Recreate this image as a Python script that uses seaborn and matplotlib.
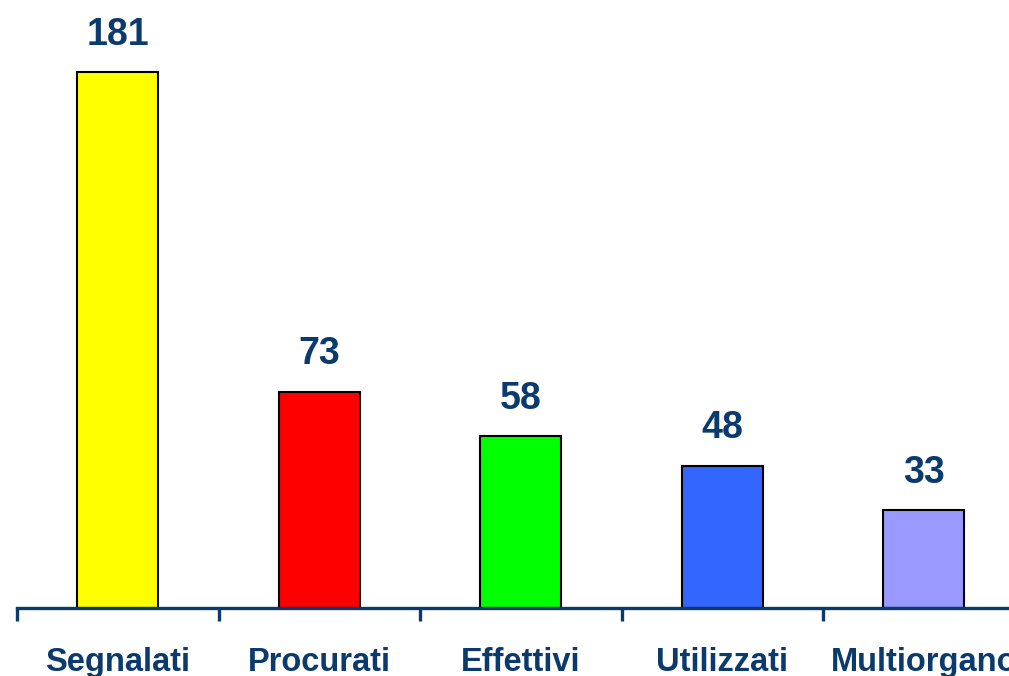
import matplotlib
matplotlib.use("Agg")
import matplotlib.pyplot as plt
import seaborn as sns
import pandas as pd

# Chart data
categories = ["Segnalati", "Procurati", "Effettivi", "Utilizzati", "Multiorgano"]
values = [181, 73, 58, 48, 33]
bar_colors = ["#FFFF00", "#FF0000", "#00FF00", "#3366FF", "#9999FF"]

df = pd.DataFrame({"categoria": categories, "valore": values})

sns.set_style("white")
plt.rcParams["font.family"] = ["Liberation Sans", "DejaVu Sans"]
navy = "#0B3A6C"

fig = plt.figure(figsize=(10.09, 6.76), dpi=100)
ax = fig.add_axes([17 / 1009, 68 / 676, 1007.5 / 1009, 608 / 676])

sns.barplot(data=df, x="categoria", y="valore", hue="categoria",
            palette=bar_colors, legend=False, width=0.4, saturation=1,
            edgecolor="black", linewidth=1.5, ax=ax)

ax.set_xlim(-0.5, 4.5)
ax.set_ylim(0, 205.3)

# value labels above bars
for i, v in enumerate(values):
    ax.annotate(str(v), (i, v), xytext=(0, 14), textcoords="offset points",
                ha="center", va="bottom", fontsize=27, fontweight="bold",
                color=navy)

for s in ["top", "right", "left"]:
    ax.spines[s].set_visible(False)
ax.spines["bottom"].set_color(navy)
ax.spines["bottom"].set_linewidth(2.4)

ax.set_yticks([])
ax.set_xlabel("")
ax.set_ylabel("")
ax.set_xticks(range(len(categories)))
ax.set_xticklabels(categories, fontsize=23.5, fontweight="bold", color=navy)
ax.tick_params(axis="x", which="major", length=0, pad=28)
ax.set_xticks([i - 0.5 for i in range(len(categories) + 1)], minor=True)
ax.tick_params(axis="x", which="minor", bottom=True, length=9, width=2.4,
               color=navy, direction="out")

fig.savefig("out.png", dpi=100)
